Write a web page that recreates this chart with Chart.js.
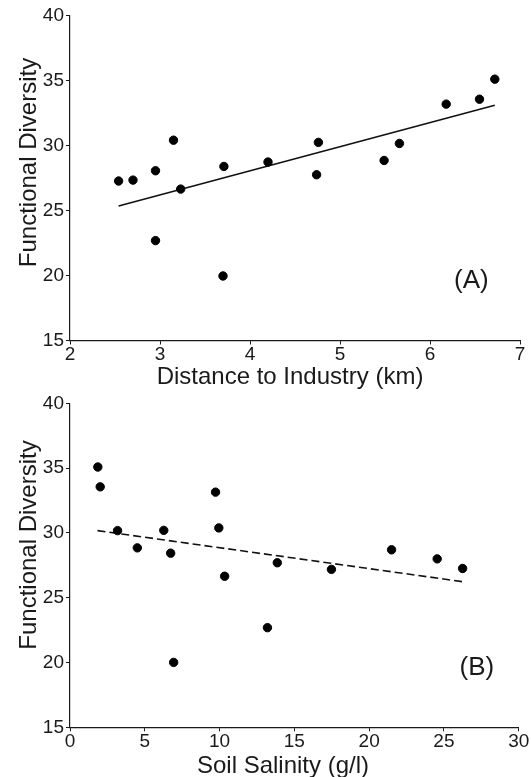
<!DOCTYPE html>
<html>
<head>
<meta charset="utf-8">
<script src="https://cdn.jsdelivr.net/npm/chart.js@4/dist/chart.umd.min.js"></script>
<style>
  html, body { margin: 0; padding: 0; background: #fff; }
  #wrap { position: relative; width: 531px; height: 777px; overflow: hidden; }
  canvas { position: absolute; left: 0; }
</style>
</head>
<body>
<div id="wrap">
  <canvas id="chartA" width="531" height="395" style="top:0"></canvas>
  <canvas id="chartB" width="531" height="387" style="top:390px"></canvas>
</div>
<script>
// panel A: distance to industry (km) vs functional diversity
const distanceKm = [2.54, 2.70, 2.95, 2.95, 3.15, 3.23, 3.71, 3.70, 4.20, 4.74, 4.76, 5.49, 5.66, 6.18, 6.55, 6.72]
const diversityA = [27.26, 27.33, 28.05, 22.68, 30.40, 26.64, 28.38, 19.96, 28.72, 27.74, 30.23, 28.84, 30.15, 33.17, 33.55, 35.09]
const fitA = [{ x: 2.54, y: 25.34 }, { x: 6.72, y: 33.09 }]

// panel B: soil salinity (g/l) vs functional diversity
const salinity = [1.86, 2.02, 3.18, 4.50, 6.27, 6.73, 6.93, 9.73, 9.95, 10.34, 13.20, 13.86, 17.48, 21.50, 24.55, 26.25]
const diversityB = [35.09, 33.56, 30.18, 28.85, 30.20, 28.44, 20.01, 33.15, 30.39, 26.66, 22.69, 27.70, 27.19, 28.70, 28.00, 27.26]
const fitB = [{ x: 1.84, y: 30.18 }, { x: 26.25, y: 26.24 }]

const yTicks = [15, 20, 25, 30, 35, 40]
const xTicksA = [2, 3, 4, 5, 6, 7]
const xTicksB = [0, 5, 10, 15, 20, 25, 30]

const FONT = "'Liberation Sans', Arial, sans-serif"
const INK = '#1a1a1a'

// axis titles and panel letter, drawn on top of the chart
const textPlugin = {
    id: 'panelText',
    afterDraw(chart, args, opts) {
        const ctx = chart.ctx
        const xs = chart.scales.x, ys = chart.scales.y
        ctx.save()
        ctx.fillStyle = INK
        ctx.font = '24px ' + FONT
        ctx.textBaseline = 'alphabetic'
        ctx.textAlign = 'center'
        ctx.fillText(opts.xTitle, opts.xTitlePos[0], opts.xTitlePos[1])
        ctx.save()
        ctx.translate(opts.yTitlePos[0], opts.yTitlePos[1])
        ctx.rotate(-Math.PI / 2)
        ctx.fillText(opts.yTitle, 0, 0)
        ctx.restore()
        ctx.font = '26px ' + FONT
        ctx.textBaseline = 'middle'
        ctx.fillText(opts.tag, xs.getPixelForValue(opts.tagAt[0]), ys.getPixelForValue(opts.tagAt[1]))
        ctx.restore()
    }
}

function makeChart(id, xs, ys, fit, dashed, xTicks, pad, xHeight, text) {
    const pts = xs.map((x, i) => ({ x: x, y: ys[i] }))
    return new Chart(document.getElementById(id), {
        type: 'scatter',
        data: {
            datasets: [
                {
                    data: pts,
                    backgroundColor: '#000',
                    borderColor: '#000',
                    pointRadius: 4.2,
                    pointHoverRadius: 4.2
                },
                {
                    type: 'line',
                    data: fit,
                    borderColor: '#111',
                    borderWidth: 1.6,
                    borderDash: dashed ? [8, 4] : [],
                    pointRadius: 0,
                    fill: false
                }
            ]
        },
        options: {
            responsive: false,
            animation: false,
            layout: { padding: pad },
            plugins: {
                legend: { display: false },
                tooltip: { enabled: false },
                panelText: text
            },
            scales: {
                x: {
                    type: 'linear',
                    min: xTicks[0],
                    max: xTicks[xTicks.length - 1],
                    afterBuildTicks: s => { s.ticks = xTicks.map(v => ({ value: v })) },
                    afterFit: s => { s.height = xHeight },
                    grid: { drawOnChartArea: false, drawTicks: true, tickLength: 4, color: INK },
                    border: { display: true, color: INK, width: 1.2 },
                    ticks: { color: INK, padding: -1, maxRotation: 0, font: { family: FONT, size: 19 } }
                },
                y: {
                    type: 'linear',
                    min: 15,
                    max: 40,
                    afterBuildTicks: s => { s.ticks = yTicks.map(v => ({ value: v })) },
                    afterFit: s => { s.width = 70 - pad.left },
                    grid: { drawOnChartArea: false, drawTicks: true, tickLength: 4, color: INK },
                    border: { display: true, color: INK, width: 1.2 },
                    ticks: { color: INK, padding: 2, font: { family: FONT, size: 19 } }
                }
            }
        },
        plugins: [textPlugin]
    })
}

makeChart('chartA', distanceKm, diversityA, fitA, false, xTicksA,
    { left: 0, top: 15.3, right: 11, bottom: 0 }, 54.5,
    { xTitle: 'Distance to Industry (km)', xTitlePos: [290, 384],
      yTitle: 'Functional Diversity', yTitlePos: [36, 162.5],
      tag: '(A)', tagAt: [6.46, 19.6] })

makeChart('chartB', salinity, diversityB, fitB, true, xTicksB,
    { left: 0.3, top: 11.3, right: 12.3, bottom: 0 }, 49.7,
    { xTitle: 'Soil Salinity (g/l)', xTitlePos: [283, 382.5],
      yTitle: 'Functional Diversity', yTitlePos: [36, 155],
      tag: '(B)', tagAt: [27.2, 19.6] })
</script>
</body>
</html>
